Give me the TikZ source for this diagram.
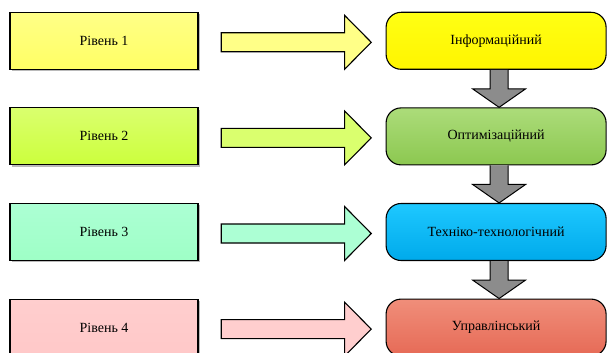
\documentclass[tikz,border=0pt]{standalone}
\usepackage{fontspec}
\setmainfont{Liberation Serif}
\usepackage{tikz}
\usetikzlibrary{positioning,calc,shadows}
\definecolor{LvlOneTop}{RGB}{255,255,135}
\definecolor{LvlOneBot}{RGB}{255,255,100}
\definecolor{LvlTwoTop}{RGB}{218,255,110}
\definecolor{LvlTwoBot}{RGB}{204,255,60}
\definecolor{LvlThreeTop}{RGB}{172,255,212}
\definecolor{LvlThreeBot}{RGB}{158,255,198}
\definecolor{LvlFourTop}{RGB}{255,206,206}
\definecolor{LvlFourBot}{RGB}{255,200,200}
\definecolor{TypeOneTop}{RGB}{255,255,20}
\definecolor{TypeOneBot}{RGB}{255,245,0}
\definecolor{TypeTwoTop}{RGB}{172,220,122}
\definecolor{TypeTwoBot}{RGB}{140,200,80}
\definecolor{TypeThreeTop}{RGB}{30,200,255}
\definecolor{TypeThreeBot}{RGB}{0,170,235}
\definecolor{TypeFourTop}{RGB}{240,142,122}
\definecolor{TypeFourBot}{RGB}{230,106,86}
\definecolor{FlowGray}{RGB}{140,140,140}

\tikzset{
  lvlbox/.style={draw=black, line width=1.1pt, rectangle, minimum width=188pt, minimum height=57pt, inner sep=0pt,
    drop shadow={shadow xshift=1.6pt, shadow yshift=-1.6pt, fill=black!45, opacity=.6}},
  typebox/.style={draw=black, line width=1.1pt, rectangle, rounded corners=15pt, minimum width=220pt, minimum height=57pt, inner sep=0pt},
  levelarrowline/.style={draw=black, line width=1.1pt, line join=miter},
  flowarrow/.style={draw=black, line width=1pt, fill=FlowGray, line join=miter}
}

% block arrow from a level box to a type box
\newcommand{\levelarrow}[3]{%
  \coordinate (as) at ($(#1.east)+(22.7,-1.5)$);
  \coordinate (at) at ($(#2.west)+(-14.3,-1.5)$);
  \draw[levelarrowline, fill=#3] ($(as)+(0,9.5)$) -- ($(at)+(-26.7,9.5)$) -- ($(at)+(-26.7,27)$) -- (at)
    -- ($(at)+(-26.7,-27)$) -- ($(at)+(-26.7,-9.5)$) -- ($(as)+(0,-9.5)$) -- cycle;}
% gray arrow between two type boxes
\newcommand{\flowdown}[2]{%
  \coordinate (fs) at ($(#1.south)+(3,0)$);
  \coordinate (ft) at ($(#2.north)+(3,0)$);
  \draw[flowarrow] ($(fs)+(-9,0)$) -- ($(fs)+(-9,-19)$) -- ($(fs)+(-26.5,-19)$) -- (ft)
    -- ($(fs)+(26.5,-19)$) -- ($(fs)+(9,-19)$) -- ($(fs)+(9,0)$);}

\begin{document}
\begin{tikzpicture}[x=1pt, y=1pt, node distance=37.5pt, font=\fontsize{14}{16}\selectfont]
    \useasboundingbox (0,0) rectangle (608,-353);
    % Nodes
    \node [lvlbox, top color=LvlOneTop, bottom color=LvlOneBot] (lvl1) at (104,-40.8) {Рівень 1};
    \node [lvlbox, top color=LvlTwoTop, bottom color=LvlTwoBot, below=of lvl1] (lvl2) {Рівень 2};
    \node [lvlbox, top color=LvlThreeTop, bottom color=LvlThreeBot, below=of lvl2] (lvl3) {Рівень 3};
    \node [lvlbox, top color=LvlFourTop, bottom color=LvlFourBot, below=of lvl3] (lvl4) {Рівень 4};

    \node [typebox, top color=TypeOneTop, bottom color=TypeOneBot, right=187pt of lvl1] (info) {Інформаційний};
    \node [typebox, top color=TypeTwoTop, bottom color=TypeTwoBot, right=187pt of lvl2] (optim) {Оптимізаційний};
    \node [typebox, top color=TypeThreeTop, bottom color=TypeThreeBot, right=187pt of lvl3] (tech) {Техніко-технологічний};
    \node [typebox, top color=TypeFourTop, bottom color=TypeFourBot, right=187pt of lvl4] (manage) {Управлінський};

    % Paths
    \levelarrow{lvl1}{info}{LvlOneTop}
    \levelarrow{lvl2}{optim}{LvlTwoTop}
    \levelarrow{lvl3}{tech}{LvlThreeTop}
    \levelarrow{lvl4}{manage}{LvlFourTop}

    \flowdown{info}{optim}
    \flowdown{optim}{tech}
    \flowdown{tech}{manage}
  \end{tikzpicture}
\end{document}
